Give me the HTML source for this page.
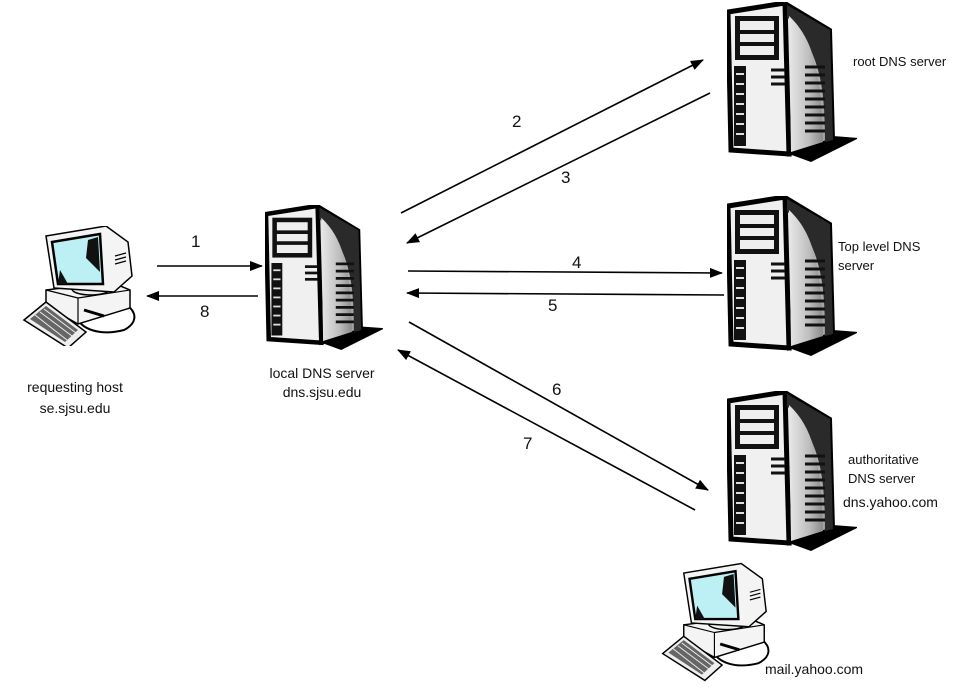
<!DOCTYPE html>
<html><head><meta charset="utf-8"><style>
html,body{margin:0;padding:0;background:#fff;}
body{width:967px;height:689px;position:relative;overflow:hidden;font-family:"Liberation Sans",Arial,sans-serif;}
.t{position:absolute;color:#111;white-space:nowrap;}
</style></head><body>
<svg width="967" height="689" style="position:absolute;left:0;top:0">
<defs>
<linearGradient id="side" x1="0" x2="1" y1="0" y2="0">
<stop offset="0" stop-color="#e8e8e8"/><stop offset="0.6" stop-color="#bdbdbd"/><stop offset="1" stop-color="#8a8a8a"/></linearGradient>
<marker id="ah" markerWidth="13" markerHeight="10" refX="12" refY="5" orient="auto" markerUnits="userSpaceOnUse">
<path d="M0,0 L13,5 L0,10 Z" fill="#000"/></marker>
<symbol id="srv" viewBox="0 0 130 160">
<polygon points="62,152 106,134 132,136 84,160" fill="#000"/>
<polygon points="58,1 103,28 106,138 62,152" fill="url(#side)" stroke="#000" stroke-width="4"/>
<polygon points="1,10 58,1 62,152 4,148" fill="#f0f0f0" stroke="#000" stroke-width="5"/>
<path d="M60,3 L103,28 L106,138 L98,140 C98,90 95,50 60,15 Z" fill="#2a2a2a"/>
<path d="M62,14 C90,40 94,80 96,140 L64,150 Z" fill="url(#side)"/>
<rect x="8" y="14" width="44" height="44" fill="#111"/>
<rect x="13" y="19" width="34" height="9" fill="#eee"/>
<rect x="13" y="32" width="34" height="8" fill="#eee"/>
<rect x="13" y="44" width="34" height="9" fill="#eee"/>
<rect x="7" y="64" width="12" height="80" fill="#111"/>
<g stroke="#ddd" stroke-width="2"><line x1="9" y1="72" x2="17" y2="72"/><line x1="9" y1="82" x2="17" y2="82"/><line x1="9" y1="92" x2="17" y2="92"/><line x1="9" y1="102" x2="17" y2="102"/><line x1="9" y1="112" x2="17" y2="112"/><line x1="9" y1="122" x2="17" y2="122"/><line x1="9" y1="132" x2="17" y2="132"/></g>
<g stroke="#111" stroke-width="3"><line x1="44" y1="68" x2="58" y2="68"/><line x1="44" y1="75" x2="58" y2="75"/><line x1="44" y1="82" x2="58" y2="82"/>
<line x1="78" y1="65" x2="98" y2="65"/><line x1="78" y1="73" x2="98" y2="73"/><line x1="78" y1="81" x2="98" y2="81"/><line x1="78" y1="89" x2="98" y2="89"/><line x1="78" y1="97" x2="98" y2="97"/><line x1="78" y1="105" x2="98" y2="105"/><line x1="78" y1="113" x2="98" y2="113"/><line x1="78" y1="121" x2="98" y2="121"/><line x1="78" y1="129" x2="98" y2="129"/></g>
</symbol>
<symbol id="pc" viewBox="0 0 120 120">
<path d="M60,90 C65,104 85,110 108,104 C120,98 122,88 112,80" fill="none" stroke="#000" stroke-width="2"/>
<polygon points="30,64 95,56 114,64 114,82 62,98 30,80" fill="#f4f4f4" stroke="#000" stroke-width="1.5"/>
<line x1="62" y1="72" x2="62" y2="98" stroke="#000" stroke-width="1.2"/>
<line x1="62" y1="72" x2="114" y2="64" stroke="#000" stroke-width="1.2"/>
<line x1="30" y1="64" x2="62" y2="72" stroke="#000" stroke-width="1.2"/>
<line x1="68" y1="84" x2="88" y2="90" stroke="#000" stroke-width="3"/>
<ellipse cx="75" cy="63" rx="19" ry="6" fill="#eee" stroke="#000" stroke-width="1.5"/>
<polygon points="30,10 90,0 112,16 116,50 98,66 38,62" fill="#f4f4f4" stroke="#000" stroke-width="1.5"/>
<polygon points="36,16 84,8 87,58 42,58" fill="#bdf0f4" stroke="#000" stroke-width="2.5"/>
<polygon points="72,14 82,11 84,46 70,32" fill="#111"/>
<polygon points="44,44 52,58 42,58" fill="#111"/>
<g stroke="#000" stroke-width="1.2"><line x1="99" y1="30" x2="110" y2="27"/><line x1="99" y1="34" x2="110" y2="31"/><line x1="99" y1="38" x2="110" y2="35"/></g>
<polygon points="8,94 30,76 70,106 52,122" fill="#eee" stroke="#000" stroke-width="1.5"/>
<polygon points="14,93 30,80 62,104 49,116" fill="#666"/>
<g stroke="#eee" stroke-width="1"><line x1="19" y1="89" x2="51" y2="114"/><line x1="24" y1="86" x2="56" y2="110"/><line x1="28" y1="83" x2="60" y2="107"/></g>
</symbol>
</defs>
<use href="#srv" x="727" y="2" width="130" height="160"/>
<use href="#srv" x="727" y="196" width="130" height="160"/>
<use href="#srv" x="727" y="391" width="130" height="160"/>
<use href="#srv" x="265" y="205" width="118" height="145"/>
<use href="#pc" x="16" y="226" width="120" height="120"/>
<use href="#pc" x="655" y="556" width="115" height="130"/>
<g stroke="#000" stroke-width="1.6" marker-end="url(#ah)">
<line x1="157" y1="266" x2="262" y2="266"/>
<line x1="258" y1="296" x2="147" y2="296"/>
<line x1="401" y1="213" x2="703" y2="60"/>
<line x1="710" y1="93" x2="407" y2="243"/>
<line x1="408" y1="271" x2="722" y2="273"/>
<line x1="724" y1="295" x2="407" y2="293"/>
<line x1="409" y1="322" x2="708" y2="490"/>
<line x1="695" y1="510" x2="398" y2="350"/>
</g>
</svg>
<div class="t" style="left:191px;top:232px;font-size:17px">1</div>
<div class="t" style="left:200px;top:302px;font-size:17px">8</div>
<div class="t" style="left:512px;top:112px;font-size:17px">2</div>
<div class="t" style="left:561px;top:168px;font-size:17px">3</div>
<div class="t" style="left:572px;top:253px;font-size:17px">4</div>
<div class="t" style="left:548px;top:296px;font-size:17px">5</div>
<div class="t" style="left:552px;top:380px;font-size:17px">6</div>
<div class="t" style="left:523px;top:434px;font-size:17px">7</div>
<div class="t" style="left:853px;top:54px;font-size:13px">root DNS server</div>
<div class="t" style="left:838px;top:237px;font-size:13px;line-height:19px">Top level DNS<br>server</div>
<div class="t" style="left:848px;top:450px;font-size:13px;line-height:19px">authoritative<br>DNS server</div>
<div class="t" style="left:843px;top:494px;font-size:14px">dns.yahoo.com</div>
<div class="t" style="left:765px;top:661px;font-size:14px">mail.yahoo.com</div>
<div class="t" style="left:18px;top:377px;width:114px;text-align:center;font-size:14px;line-height:21px">requesting host<br>se.sjsu.edu</div>
<div class="t" style="left:257px;top:364px;width:130px;text-align:center;font-size:14px;line-height:19px">local DNS server<br>dns.sjsu.edu</div>
</body></html>
